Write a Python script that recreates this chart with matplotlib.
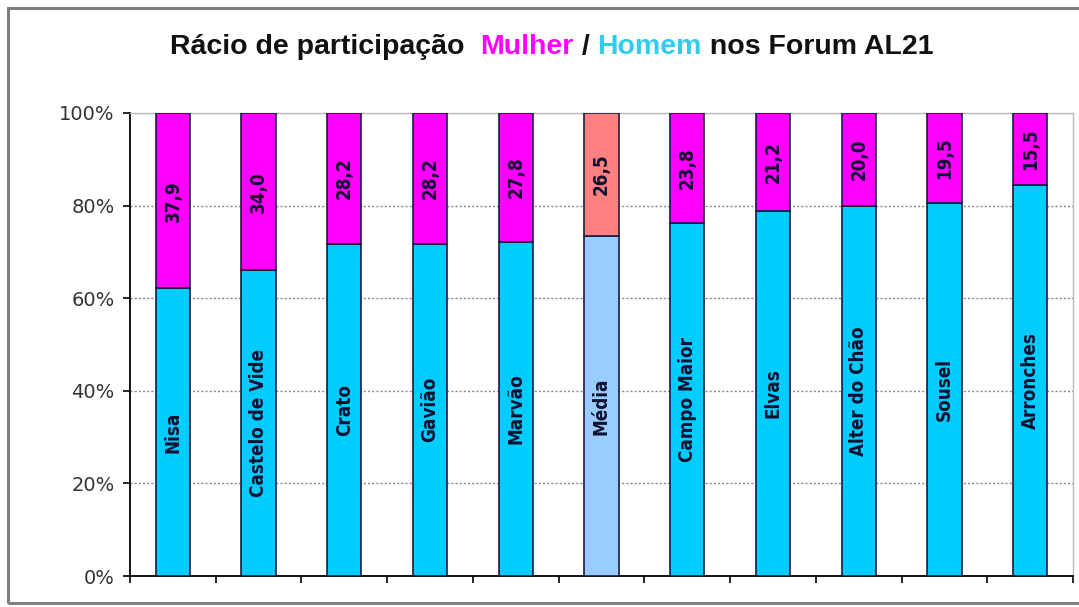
import numpy as np
import matplotlib.pyplot as plt
from matplotlib.patches import Rectangle

# Data
concelhos = ['Nisa', 'Castelo de Vide', 'Crato', 'Gavião', 'Marvão', 'Média',
             'Campo Maior', 'Elvas', 'Alter do Chão', 'Sousel', 'Arronches']
mulher = [37.9, 34.0, 28.2, 28.2, 27.8, 26.5, 23.8, 21.2, 20.0, 19.5, 15.5]
homem = [100 - m for m in mulher]
yticks = [0, 20, 40, 60, 80, 100]

CYAN = '#00CCFF'
MAGENTA = '#FF00FF'
LIGHT_BLUE = '#99CCFF'
SALMON = '#FF8080'

fig = plt.figure(figsize=(10.79, 6.07), dpi=100)
ax = fig.add_axes([130 / 1079, 31 / 607, 943 / 1079, 463 / 607])

# outer chart border (right edge falls outside the image)
fig.patches.append(Rectangle((8 / 1079, 4 / 607), 1.05, 595 / 607, transform=fig.transFigure,
                             fill=False, edgecolor='#7f7f7f', linewidth=2.2))

x = np.arange(len(concelhos))
c_h = [LIGHT_BLUE if c == 'Média' else CYAN for c in concelhos]
c_m = [SALMON if c == 'Média' else MAGENTA for c in concelhos]
ax.bar(x, homem, width=0.4, color=c_h, edgecolor='#1a1a40', linewidth=1.2, zorder=3)
ax.bar(x, mulher, width=0.4, bottom=homem, color=c_m, edgecolor='#1a1a40', linewidth=1.2, zorder=3)

lbl_font = dict(family=['DejaVu Sans'], fontstretch='condensed', fontweight='bold', fontsize=13.5)
for i in range(len(concelhos)):
    ax.text(x[i], homem[i] / 2, concelhos[i], rotation=90, ha='center', va='center',
            color='#101030', zorder=4, **lbl_font)
    ax.text(x[i], homem[i] + mulher[i] / 2, f'{mulher[i]:.1f}'.replace('.', ','), rotation=90,
            ha='center', va='center', color='#101030', zorder=4, **lbl_font)

ax.set_xlim(-0.5, len(concelhos) - 0.5)
ax.set_ylim(0, 100)
ax.set_yticks(yticks)
ax.set_yticklabels([f'{v}%' for v in yticks], fontsize=14, color='#333333',
                   family=['DejaVu Sans'])
ax.set_xticks(np.arange(len(concelhos) + 1) - 0.5)
ax.set_xticklabels([])
ax.tick_params(axis='x', direction='out', length=5, width=1.2)
ax.tick_params(axis='y', direction='out', length=5, width=1.2, pad=6)

ax.yaxis.grid(True, linestyle=(0, (1.5, 1.5)), color='#888888', linewidth=1, zorder=0)
for s in ['top', 'right']:
    ax.spines[s].set_color('#bbbbbb')
    ax.spines[s].set_linewidth(1)
for s in ['left', 'bottom']:
    ax.spines[s].set_color('black')
    ax.spines[s].set_linewidth(1.3)

# multi-coloured title
tfont = dict(family=['Liberation Sans', 'DejaVu Sans'], fontweight='bold', fontsize=20.5)
ty = 1 - 47 / 607
t = fig.text(170 / 1079, ty, 'Rácio de participação  ', va='center', ha='left',
             color='#111111', **tfont)
parts = [('Mulher', MAGENTA), (' / ', '#111111'), ('Homem', '#33CCEE'), (' nos Forum AL21', '#111111')]
for txt, col in parts:
    fig.text(0, ty, txt, color=col, va='center', ha='left', **tfont)
fig.canvas.draw()
# chain parts one after another
r = fig.canvas.get_renderer()
xpos = t.get_window_extent(r).x1
for tt in fig.texts[1:]:
    tt.set_position((xpos / fig.bbox.width, ty))
    xpos += tt.get_window_extent(r).width

fig.savefig('out.png', dpi=100)
